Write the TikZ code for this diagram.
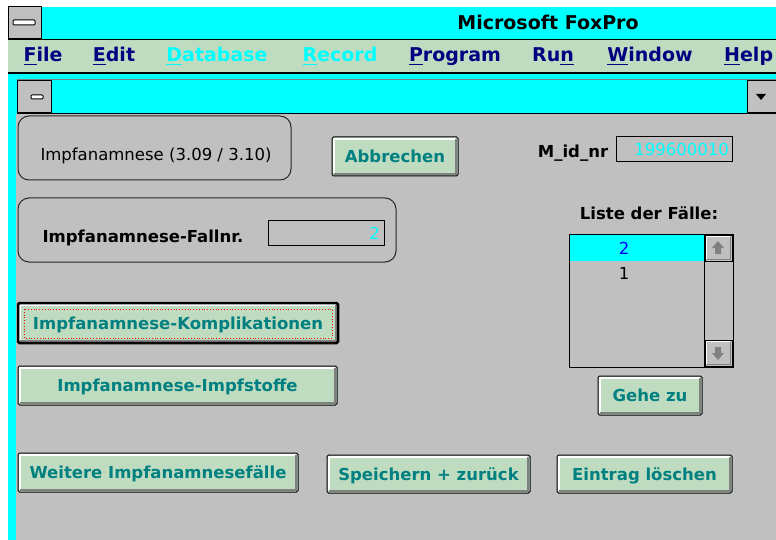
\documentclass[tikz,border=0pt]{standalone}
\usepackage{fontspec}
\setmainfont{DejaVu Sans}
\usepackage{xcolor}
\usetikzlibrary{positioning}
\definecolor{fpcyan}{HTML}{00FFFF}
\definecolor{fpgrey}{HTML}{C0C0C0}
\definecolor{fpdark}{HTML}{808080}
\definecolor{fpface}{HTML}{C0DCC0}
\definecolor{fpnavy}{HTML}{000080}
\definecolor{fpteal}{HTML}{008080}
\definecolor{fpblue}{HTML}{0000FF}
\newcommand{\mkey}[1]{\setbox0\hbox{#1}\rlap{\rule[-3.5pt]{\wd0}{1.6pt}}\box0}
\newcommand{\fpbutton}[6]{%
  \draw [black,fill=fpface,line width=1pt,rounded corners=1.5pt] (#2,#3) rectangle (#4,#5);
  \draw [white,line width=1.5pt] ({#2+1.8},{#5-2.5}) -- ({#2+1.8},{#3+1.8}) -- ({#4-2.5},{#3+1.8});
  \draw [fpdark,line width=2pt] ({#2+2},{#5-2}) -- ({#4-2},{#5-2}) -- ({#4-2},{#3+2});
  \node [btnlbl] (#1) at ({(#2+#4)/2},{(#3+#5)/2}) {#6};
}
\newcommand{\fpscroll}[4]{%
  \draw [black,fill=fpgrey,line width=0.8pt] (#1,#2) rectangle (#3,#4);
  \draw [white,line width=1.2pt] ({#1+1.5},{#4-2}) -- ({#1+1.5},{#2+1.5}) -- ({#3-2},{#2+1.5});
  \draw [fpdark,line width=1.5pt] ({#1+2},{#4-1.5}) -- ({#3-1.5},{#4-1.5}) -- ({#3-1.5},{#2+2});
}

\begin{document}
\begin{tikzpicture}[x=1pt,y=-1pt]
\tikzstyle{every node}+=[inner sep=0pt]
\tikzstyle{menuitem}=[text=fpnavy,font=\bfseries\fontsize{19}{21}\selectfont,text height=14pt,text depth=0pt]
\tikzstyle{menuoff}=[menuitem,text=fpcyan]
\tikzstyle{lbl}=[font=\bfseries\fontsize{16.5}{18}\selectfont,text height=12pt,text depth=0pt]
\tikzstyle{plain}=[font=\fontsize{16.5}{18}\selectfont,text height=12pt,text depth=0pt]
\tikzstyle{btnlbl}=[lbl,text=fpteal]
\tikzstyle{groupbox}=[draw=black!85,fill=fpgrey,rounded corners=11pt,line width=1pt]
\tikzstyle{fieldbox}=[draw=black,line width=1pt]
\useasboundingbox (0,0) rectangle (776,540);
\fill [white] (0,0) rectangle (776,540);
\fill [fpcyan] (8,7) rectangle (776,39);
\draw [black,fill=fpgrey,line width=1pt] (8,7) rectangle (41,39);
\draw [black,fill=white,rounded corners=1pt,line width=1pt] (13,20) rectangle (35,25);
\node [menuitem,text=black] (title) at (548,23) {Microsoft FoxPro};
\fill [fpface] (8,40) rectangle (776,72);
\draw [black,line width=1pt] (8,39.5) -- (776,39.5);
\draw [black,line width=2pt] (8,73) -- (776,73);
\node [menuitem] (mfile) at (43,55) {\mkey{F}ile};
\node [menuitem] (medit) at (114,55) {\mkey{E}dit};
\node [menuoff] (mdatabase) at (217,55) {\mkey{D}atabase};
\node [menuoff] (mrecord) at (340,55) {\mkey{R}ecord};
\node [menuitem] (mprogram) at (455,55) {\mkey{P}rogram};
\node [menuitem] (mrun) at (553,55) {Ru\mkey{n}};
\node [menuitem] (mwindow) at (650,55) {\mkey{W}indow};
\node [menuitem,anchor=west] (mhelp) at (724,55) {\mkey{H}elp};
\fill [fpcyan] (8,74) rectangle (776,540);
\draw [fpdark,line width=1pt] (17,80) -- (776,80);
\draw [black,fill=fpgrey,line width=1pt] (17,81) rectangle (51,113);
\draw [black,fill=white,rounded corners=1pt,line width=1pt] (31,95) rectangle (43,99);
\draw [black,fill=fpgrey,line width=1pt] (747,81) rectangle (776,113);
\fill [black] (756,94) -- (766,94) -- (761,100) -- cycle;
\fill [fpgrey] (16,114) rectangle (776,540);
\draw [black,line width=1pt] (17,113.5) -- (776,113.5);
\draw [groupbox] (18,116) rectangle (291,180);
\node [plain] (heading) at (156,155) {Impfanamnese (3.09 / 3.10)};
\fpbutton{abbrechen}{332}{137}{458}{176}{Abbrechen}
\draw [groupbox] (18,198) rectangle (396,262);
\node [lbl] (fallnrlbl) at (143,236) {Impfanamnese-Fallnr.};
\draw [fieldbox] (268,220) rectangle (384,245);
\node [plain,text=fpcyan,anchor=east] (fallnr) at (380,233) {2};
\node [lbl] (midlbl) at (573,152) {M\_id\_nr};
\draw [fieldbox] (616,137) rectangle (732,162);
\node [plain,text=fpcyan,anchor=east] (mid) at (729,150) {199600010};
\node [lbl] (listelbl) at (649,213) {Liste der Fälle:};
\draw [fieldbox,fill=fpgrey] (569,234) rectangle (733,367);
\fill [fpcyan] (569.5,234.5) rectangle (704,261);
\draw [black,line width=1pt] (704,234) -- (704,367);
\fpscroll{705}{235}{732}{261}
\fpscroll{705}{340}{732}{366}
\fill [fpdark] (718,241) -- (724,248) -- (721,248) -- (721,254) -- (715,254) -- (715,248) -- (712,248) -- cycle;
\fill [fpdark] (718,360) -- (724,353) -- (721,353) -- (721,347) -- (715,347) -- (715,353) -- (712,353) -- cycle;
\node [plain,text=fpblue] (fall2) at (624,248) {2};
\node [plain] (fall1) at (624,273) {1};
\fpbutton{gehezu}{598}{376}{702}{415}{Gehe zu}
\fpbutton{kompl}{18}{303}{338}{343}{Impfanamnese-Komplikationen}
\draw [black,line width=2.5pt,rounded corners=1.5pt] (18,303) rectangle (338,343);
\draw [red,dotted,line width=0.8pt] (24,309) rectangle (332,338);
\fpbutton{impfstoffe}{18}{366}{337}{405}{Impfanamnese-Impfstoffe}
\fpbutton{weitere}{18}{453}{298}{492}{Weitere Impfanamnesefälle}
\fpbutton{speichern}{327}{455}{530}{493}{Speichern + zurück}
\fpbutton{loeschen}{557}{455}{732}{493}{Eintrag löschen}
\end{tikzpicture}
\end{document}
